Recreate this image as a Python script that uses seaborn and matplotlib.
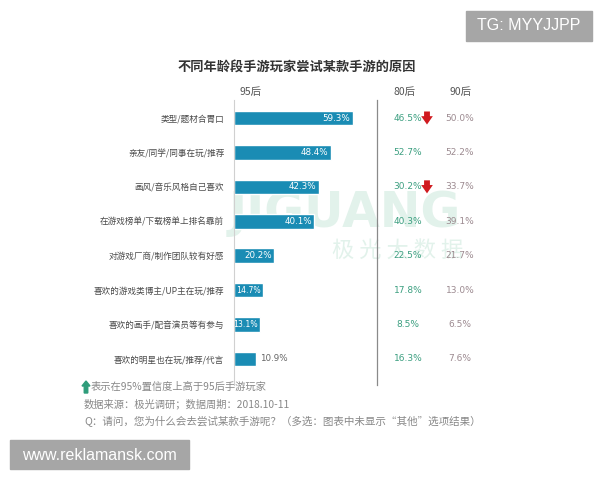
import matplotlib
matplotlib.use("Agg")
import matplotlib.pyplot as plt
import matplotlib.transforms as mtrans
import seaborn as sns
import pandas as pd

sns.set_theme(style="white")
plt.rcParams['font.family'] = ['Noto Sans CJK SC', 'DejaVu Sans']

# ---------------- data ----------------
categories = ["类型/题材合胃口", "亲友/同学/同事在玩/推荐", "画风/音乐风格自己喜欢",
              "在游戏榜单/下载榜单上排名靠前", "对游戏厂商/制作团队较有好感",
              "喜欢的游戏类博主/UP主在玩/推荐", "喜欢的画手/配音演员等有参与",
              "喜欢的明星也在玩/推荐/代言"]
v95 = [59.3, 48.4, 42.3, 40.1, 20.2, 14.7, 13.1, 10.9]
v80 = [46.5, 52.7, 30.2, 40.3, 22.5, 17.8, 8.5, 16.3]
v90 = [50.0, 52.2, 33.7, 39.1, 21.7, 13.0, 6.5, 7.6]
sig80 = [True, False, True, False, False, False, False, False]  # significantly lower (red down arrow)
group_labels = ["95后", "80后", "90后"]
title = "不同年龄段手游玩家尝试某款手游的原因"
notes = ["表示在95%置信度上高于95后手游玩家",
         "数据来源：极光调研；数据周期：2018.10-11",
         "Q：请问，您为什么会去尝试某款手游呢？（多选：图表中未显示“其他”选项结果）"]

df = pd.DataFrame({"reason": categories, "pct": v95})

W, H = 600, 480
fig = plt.figure(figsize=(6, 4.8), dpi=100)
fig.patch.set_facecolor("white")

def fx(px):
    return px / W

def fy(py):
    return 1 - py / H

# background watermark (light green), drawn behind everything
wm = "#e2f2eb"
fig.text(fx(345), fy(213), "JIGUANG", fontsize=35, fontweight="bold", color=wm,
         ha="center", va="center", family="DejaVu Sans", zorder=-2)
fig.text(fx(398), fy(250), "极 光 大 数 据", fontsize=16, color=wm,
         ha="center", va="center", zorder=-2)

# main bar axes
ax = fig.add_axes([fx(234), fy(385), fx(377) - fx(234), fy(100) - fy(385)])
ax.set_zorder(1)
ax.patch.set_alpha(0)
bar_color = "#1a8cb4"
sns.barplot(data=df, x="pct", y="reason", orient="h", color=bar_color,
            width=0.42, ax=ax, saturation=1)
ax.set_xlim(0, 71.5)
ax.set_ylim(7.756, -0.523)
ax.set_xlabel("")
ax.set_ylabel("")
ax.set_xticks([])
ax.tick_params(axis="y", length=0, pad=7, labelsize=6.2, labelcolor="#4a4a4a")
for s in ["top", "bottom"]:
    ax.spines[s].set_visible(False)
ax.spines["left"].set_color("#d0d0d0")
ax.spines["left"].set_linewidth(0.8)
ax.spines["right"].set_color("#8a8a8a")
ax.spines["right"].set_linewidth(0.9)

# value labels on bars
for i, v in enumerate(v95):
    if v > 12:
        fs = 6.3 if v > 15 else 5.6
        ax.text(v - 1.2, i, f"{v:.1f}%", color="white", fontsize=fs,
                ha="right", va="center", family="DejaVu Sans")
    else:
        ax.text(v + 2.2, i, f"{v:.1f}%", color="#666", fontsize=6.3,
                ha="left", va="center", family="DejaVu Sans")

# other generations
bt = mtrans.blended_transform_factory(fig.transFigure, ax.transData)
for i, (a, b) in enumerate(zip(v80, v90)):
    ax.text(fx(408), i, f"{a:.1f}%", color="#3c9f80", fontsize=6.5, ha="center",
            va="center", transform=bt, family="DejaVu Sans", clip_on=False)
    ax.text(fx(460), i, f"{b:.1f}%", color="#9c8a90", fontsize=6.5, ha="center",
            va="center", transform=bt, family="DejaVu Sans", clip_on=False)
    if sig80[i]:
        ax.annotate("", xy=(fx(427), i + 0.27), xytext=(fx(427), i - 0.27),
                    xycoords=bt, textcoords=bt,
                    arrowprops=dict(arrowstyle="simple,head_length=0.5,head_width=0.7,tail_width=0.35",
                                    color="#d01a1f", lw=0), annotation_clip=False)

# headers
fig.text(fx(251), fy(92), group_labels[0], fontsize=7.5, color="#555", ha="center", va="center")
fig.text(fx(405), fy(92), group_labels[1], fontsize=7.5, color="#555", ha="center", va="center")
fig.text(fx(460), fy(92), group_labels[2], fontsize=7.5, color="#555", ha="center", va="center")

# title
fig.text(fx(297), fy(68), title, fontsize=9.5, fontweight="bold", color="#333",
         ha="center", va="center")

# footnotes
fig.patches.append(matplotlib.patches.FancyArrow(
    fx(86), fy(393), 0, fy(381) - fy(393), width=fx(3.5), head_width=fx(8),
    head_length=fy(0) - fy(5), length_includes_head=True, color="#2e9c7a",
    transform=fig.transFigure, figure=fig))
fig.text(fx(91), fy(387), notes[0], fontsize=7.4, color="#888", ha="left", va="center")
fig.text(fx(84), fy(404), notes[1], fontsize=7.4, color="#888", ha="left", va="center")
fig.text(fx(84), fy(421), notes[2], fontsize=7.6, color="#888", ha="left", va="center")

# overlay stamps
fig.patches.append(matplotlib.patches.Rectangle(
    (fx(466), fy(41)), fx(126), fy(11) - fy(41), color="#a6a6a6",
    transform=fig.transFigure, figure=fig, zorder=5))
fig.text(fx(529), fy(26), "TG: MYYJJPP", fontsize=11.5, color="white",
         ha="center", va="center", family="Liberation Sans", zorder=6)
fig.patches.append(matplotlib.patches.Rectangle(
    (fx(10), fy(469)), fx(179), fy(440) - fy(469), color="#a6a6a6",
    transform=fig.transFigure, figure=fig, zorder=5))
fig.text(fx(99), fy(455), "www.reklamansk.com", fontsize=11.5, color="white",
         ha="center", va="center", family="Liberation Sans", zorder=6)

fig.savefig("out.png", dpi=100, facecolor="white")
